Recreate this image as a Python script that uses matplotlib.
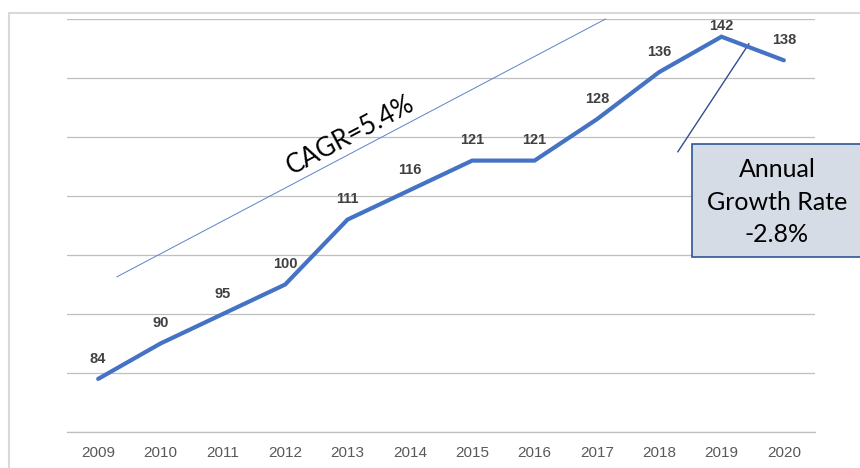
import matplotlib
matplotlib.use("Agg")
import matplotlib.pyplot as plt
from matplotlib.patches import Rectangle


# Du lieu
nam = ["2009", "2010", "2011", "2012", "2013", "2014",
       "2015", "2016", "2017", "2018", "2019", "2020"]
gia_tri = [84, 90, 95, 100, 111, 116, 121, 121, 128, 136, 142, 138]

y_min, y_max, y_buoc = 75, 145, 10
cagr_text = "CAGR=5.4%"
hop_text = "Annual\nGrowth Rate\n-2.8%"


def ve_bieu_do():
    fig = plt.figure(figsize=(8.6, 4.68), dpi=100)
    ax = fig.add_axes([67 / 860, 36 / 468, 748 / 860, 413 / 468])

    x = list(range(len(nam)))
    ax.plot(x, gia_tri, color="#4472C4", linewidth=3.0,
            solid_joinstyle="miter", solid_capstyle="round", zorder=3)

    # nhan gia tri
    for i, v in enumerate(gia_tri):
        dy = 8 if v == max(gia_tri) else 14.5
        ax.annotate(str(v), xy=(i, v), xytext=(0, dy), textcoords="offset points",
                    ha="center", va="center", fontsize=10.5, fontweight="bold",
                    color="#404040", family="Liberation Sans", zorder=4)

    ax.set_xlim(-0.5, len(nam) - 0.5)
    ax.set_ylim(y_min, y_max)
    ax.set_yticks(range(y_min, y_max + 1, y_buoc))
    ax.set_yticklabels([])
    ax.set_xticks(x)
    ax.set_xticklabels(nam, fontsize=11, color="#595959", family="Liberation Sans")
    ax.tick_params(axis="both", length=0)
    ax.tick_params(axis="x", pad=10)
    ax.grid(axis="y", color="#BFBFBF", linewidth=0.9)
    ax.set_axisbelow(True)
    for s in ["top", "right", "left"]:
        ax.spines[s].set_visible(False)
    ax.spines["bottom"].set_color("#BFBFBF")
    ax.spines["bottom"].set_linewidth(0.9)

    # duong CAGR
    ax.plot([0.3, 8.14], [101.3, 145], color="#5B84C8", linewidth=0.7,
            clip_on=False, zorder=2)
    ax.text(4.05, 125.3, cagr_text, rotation=28, rotation_mode="anchor",
            ha="center", va="center", fontsize=18.5, family="Lato", color="black")

    # duong chi toi hop
    ax.plot([9.3, 10.44], [122.5, 140.8], color="#2F4F8F", linewidth=1.0, zorder=2)

    # hop tang truong
    hop = Rectangle((692 / 860, 1 - 257 / 468), 0.3, 113 / 468,
                    transform=fig.transFigure, facecolor="#D6DCE5",
                    edgecolor="#2F5597", linewidth=1.2, clip_on=False, zorder=5)
    fig.patches.append(hop)
    fig.text(777 / 860, 1 - 202 / 468, hop_text, ha="center", va="center",
             fontsize=18, family="Lato", color="black", linespacing=1.5, zorder=6)

    # vien bieu do
    vien = Rectangle((8.5 / 860, -0.1), 1.2, 0.1 + 1 - 13 / 468,
                     transform=fig.transFigure, facecolor="none",
                     edgecolor="#D9D9D9", linewidth=1.5, clip_on=False)
    fig.patches.append(vien)

    fig.savefig("out.png", dpi=100)


if __name__ == "__main__":
    ve_bieu_do()
